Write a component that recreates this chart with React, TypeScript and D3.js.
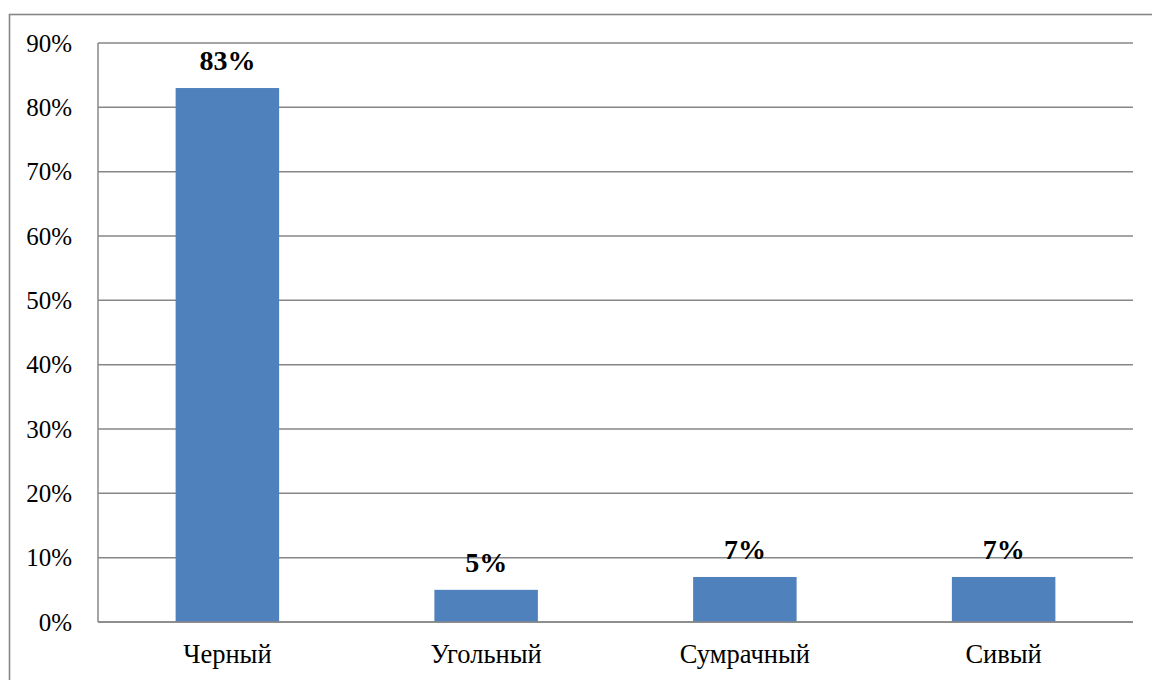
import React from "react";
import * as d3 from "d3";

const categories = ["Черный", "Угольный", "Сумрачный", "Сивый"];
const values = [83, 5, 7, 7];
const yTicks = [0, 10, 20, 30, 40, 50, 60, 70, 80, 90];

const W = 1152;
const H = 680;
const plot = { left: 98, right: 1133, top: 43, bottom: 622 };

const FONT = '"Liberation Serif", "Times New Roman", Times, "DejaVu Serif", serif';

export default function App() {
  const x = d3
    .scaleBand<string>()
    .domain(categories)
    .range([plot.left, plot.right])
    .paddingInner(0.6)
    .paddingOuter(0.3);
  const y = d3.scaleLinear().domain([0, 90]).range([plot.bottom, plot.top]);

  const grid = "#878787";
  const textStyle = { fontFamily: FONT };

  return (
    <svg
      width={W}
      height={H}
      style={{ position: "fixed", top: 0, left: 0, background: "#fff", fontFamily: FONT }}
    >
      <rect x={0} y={0} width={W} height={H} fill="#fff" />
      {/* chart frame */}
      <rect x={9.5} y={14.5} width={W + 20} height={H + 20} fill="none" stroke={grid} strokeWidth={1.6} />

      {/* gridlines and y tick labels */}
      {yTicks.map((t) => (
        <g key={t}>
          <line x1={plot.left} x2={plot.right} y1={y(t)} y2={y(t)} stroke={grid} strokeWidth={1.5} />
          <text x={72} y={y(t)} dy="0.35em" textAnchor="end" fontSize={25} fill="#000" style={textStyle}>
            {t}%
          </text>
        </g>
      ))}
      {/* value axis line */}
      <line x1={plot.left} x2={plot.left} y1={plot.top} y2={plot.bottom} stroke={grid} strokeWidth={1.5} />

      {/* bars */}
      {categories.map((c, i) => (
        <rect
          key={c}
          x={x(c)}
          y={y(values[i])}
          width={x.bandwidth()}
          height={y(0) - y(values[i])}
          fill="#4F81BD"
        />
      ))}
      {/* baseline over bars */}
      <line x1={plot.left} x2={plot.right} y1={y(0)} y2={y(0)} stroke={grid} strokeWidth={1.5} />

      {/* value labels */}
      {categories.map((c, i) => (
        <text
          key={c + "-v"}
          x={(x(c) ?? 0) + x.bandwidth() / 2}
          y={y(values[i]) - 18}
          textAnchor="middle"
          fontSize={28}
          fontWeight="bold"
          fill="#000"
          style={textStyle}
        >
          {values[i]}%
        </text>
      ))}

      {/* category labels */}
      {categories.map((c) => (
        <text
          key={c + "-c"}
          x={(x(c) ?? 0) + x.bandwidth() / 2}
          y={663}
          textAnchor="middle"
          fontSize={26.5}
          fill="#000"
          style={textStyle}
        >
          {c}
        </text>
      ))}
    </svg>
  );
}
